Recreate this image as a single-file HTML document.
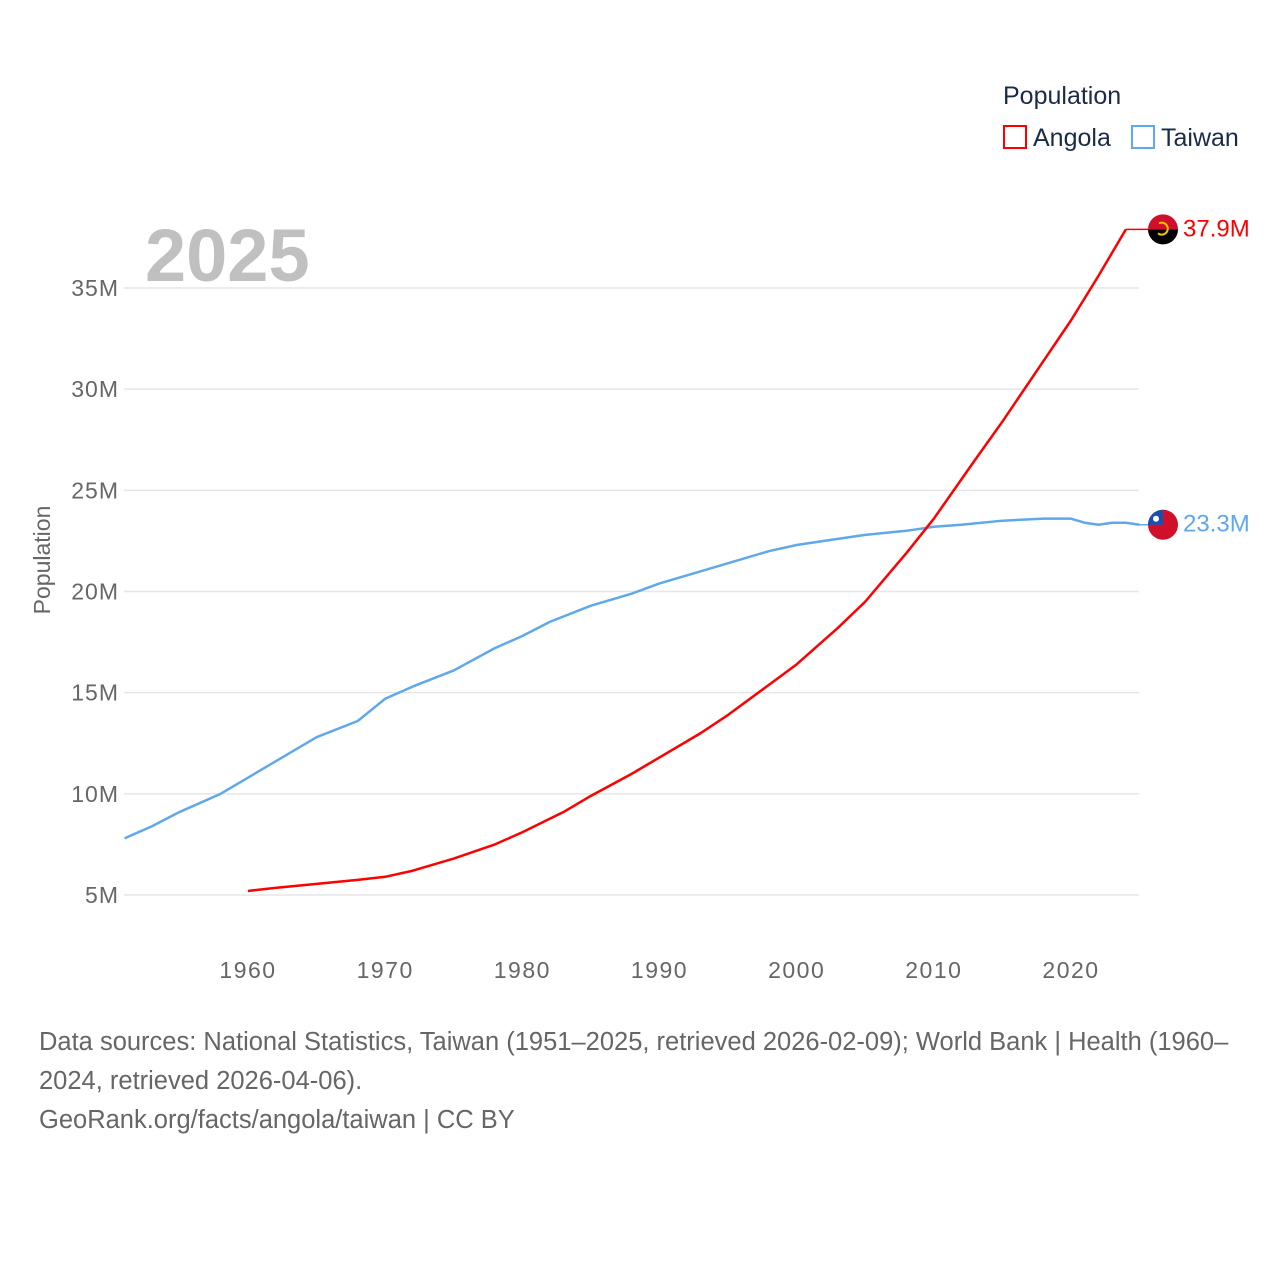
<!DOCTYPE html>
<html><head><meta charset="utf-8"><style>
body{margin:0;background:#fff;font-family:"Liberation Sans",sans-serif}
svg{display:block}
</style></head><body>
<svg width="1280" height="1280">
<g id="grid"></g>
<text x="145" y="281" font-size="74" font-weight="bold" fill="#c0c0c0">2025</text>
<g id="yt" font-size="23" fill="#666" text-anchor="end" letter-spacing="1"></g>
<g id="xt" font-size="23" fill="#666" text-anchor="middle" letter-spacing="1.5"></g>
<text transform="translate(50,560) rotate(-90)" font-size="23" fill="#666" text-anchor="middle">Population</text>
<g id="series"></g>
<g>
<text x="1003" y="104" font-size="25" fill="#1a2b4a">Population</text>
<rect x="1004" y="126" width="22" height="22" fill="none" stroke="#ff0000" stroke-width="2"/>
<text x="1033" y="146" font-size="25" fill="#1a2b4a">Angola</text>
<rect x="1132" y="126" width="22" height="22" fill="none" stroke="#5fa8ea" stroke-width="2"/>
<text x="1161" y="146" font-size="25" fill="#1a2b4a">Taiwan</text>
</g>
<g font-size="25.5" fill="#666">
<text x="39" y="1050">Data sources: National Statistics, Taiwan (1951–2025, retrieved 2026-02-09); World Bank | Health (1960–</text>
<text x="39" y="1089">2024, retrieved 2026-04-06).</text>
<text x="39" y="1128">GeoRank.org/facts/angola/taiwan | CC BY</text>
</g>
</svg>
<script>
const yTicks=[5,10,15,20,25,30,35];
const xTicks=[1960,1970,1980,1990,2000,2010,2020];
const taiwanYears=[1951,1953,1955,1958,1960,1962,1965,1968,1970,1972,1975,1978,1980,1982,1985,1988,1990,1993,1995,1998,2000,2002,2005,2008,2010,2012,2015,2018,2020,2021,2022,2023,2024,2025];
const taiwanVals=[7.8,8.4,9.1,10.0,10.8,11.6,12.8,13.6,14.7,15.3,16.1,17.2,17.8,18.5,19.3,19.9,20.4,21.0,21.4,22.0,22.3,22.5,22.8,23.0,23.2,23.3,23.5,23.6,23.6,23.4,23.3,23.4,23.4,23.3];
const angolaYears=[1960,1962,1965,1968,1970,1972,1975,1978,1980,1983,1985,1988,1990,1993,1995,1998,2000,2003,2005,2008,2010,2013,2015,2018,2020,2022,2024];
const angolaVals=[5.2,5.35,5.55,5.75,5.9,6.2,6.8,7.5,8.1,9.1,9.9,11.0,11.8,13.0,13.9,15.4,16.4,18.2,19.5,21.9,23.6,26.5,28.4,31.4,33.4,35.6,37.9];
const X=y=>248+(y-1960)*13.717, Y=v=>895-(v-5)*20.233;
const NS='http://www.w3.org/2000/svg';
function mk(t,a,p){const e=document.createElementNS(NS,t);for(const k in a)e.setAttribute(k,a[k]);p.appendChild(e);return e;}
const grid=document.getElementById('grid'),yt=document.getElementById('yt'),xt=document.getElementById('xt'),se=document.getElementById('series');
yTicks.forEach(v=>{
 const l=mk('line',{x1:124,x2:1139,y1:Y(v),y2:Y(v),stroke:'#e6e6e6','stroke-width':1.5},grid);
 
 
 const t=mk('text',{x:119,y:Y(v)+8},yt);t.textContent=v+'M';
 
 
});
xTicks.forEach(y=>{
 const t=mk('text',{x:X(y),y:978},xt);t.textContent=y;
 
 
});
function line(ys,vs,c,name){
 const p=mk('polyline',{points:ys.map((y,i)=>X(y)+','+Y(vs[i])).join(' '),fill:'none',stroke:c,'stroke-width':2.5,'stroke-linejoin':'round'},se);
 
 
}
line(taiwanYears,taiwanVals,'#5fa8ea','taiwan-line');
line(angolaYears,angolaVals,'#ff0000','angola-line');
function end(ys,vs,c,name,flag){
 const x=X(ys[ys.length-1]),y=Y(vs[vs.length-1]);
 mk('line',{x1:x,x2:1148,y1:y,y2:y,stroke:c,'stroke-width':1.5},se);
 const g=mk('g',{},se);
 
 
 flag(g,1163,y);
 const t=mk('text',{x:1183,y:y+7,'font-size':24,fill:c},se);
 t.textContent=vs[vs.length-1].toFixed(1)+'M';
 
 
}
end(angolaYears,angolaVals,'#ff0000','angola',(g,cx,cy)=>{
 mk('path',{d:`M${cx-15},${cy} A15,15 0 0 1 ${cx+15},${cy} Z`,fill:'#d0102a'},g);
 mk('path',{d:`M${cx-15},${cy} A15,15 0 0 0 ${cx+15},${cy} Z`,fill:'#000'},g);
 mk('path',{d:`M${cx-4},${cy-6} A6,6 0 1 1 ${cx-5},${cy+4}`,fill:'none',stroke:'#f5c400','stroke-width':2},g);
});
end(taiwanYears,taiwanVals,'#5fa8ea','taiwan',(g,cx,cy)=>{
 mk('circle',{cx:cx,cy:cy,r:15,fill:'#d0102a'},g);
 mk('path',{d:`M${cx-15},${cy} A15,15 0 0 1 ${cx},${cy-15} L${cx},${cy} Z`,fill:'#1a4fb0'},g);
 mk('circle',{cx:cx-7,cy:cy-6,r:3,fill:'#fff'},g);
});
</script>
</body></html>
